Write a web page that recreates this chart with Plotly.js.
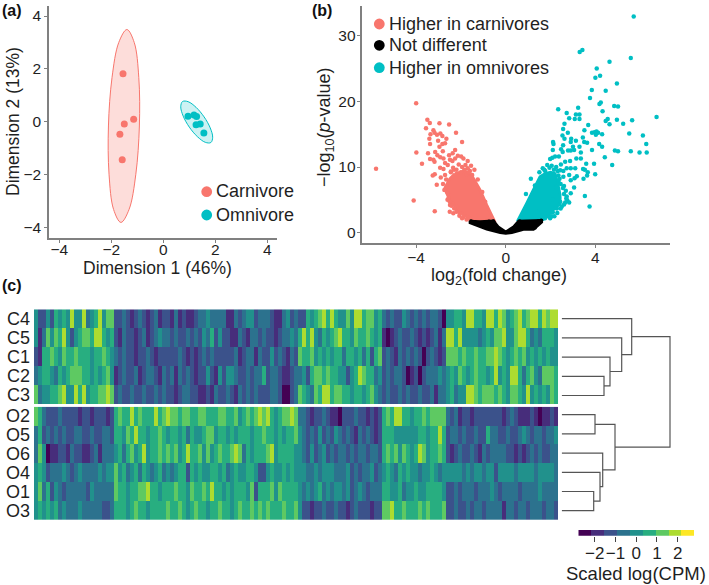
<!DOCTYPE html>
<html><head><meta charset="utf-8">
<script src="https://cdn.plot.ly/plotly-3.0.1.min.js"></script>
<style>html,body{margin:0;padding:0;background:#fff}</style></head>
<body><div id="chart" style="width:709px;height:585px"></div>
<script>
// ---- colours ----
const carnColor = '#F8766D', omniColor = '#00BFC4', notDiffColor = '#000000';
const viridis9 = ['#440154','#472d7b','#3b528b','#2c728e','#21918c','#28ae80','#5ec962','#addc30','#fde725'];

// ---- (a) MDS ----
const carnX = [-1.55,-1.14,-1.50,-1.67,-1.58];
const carnY = [1.82,0.10,-0.08,-0.47,-1.43];
const omniX = [0.95,1.18,1.28,1.26,1.42,1.56];
const omniY = [0.21,0.26,0.20,-0.11,-0.08,-0.42];
const carnEllipseX = [-1.40,-1.118,-0.942,-0.92,-1.057,-1.317,-1.63,-1.912,-2.087,-2.11,-1.973,-1.713,-1.40];
const carnEllipseY = [3.49,3.00,1.67,-0.155,-1.98,-3.31,-3.80,-3.31,-1.98,-0.155,1.67,3.00,3.49];
const omniEllipseX = [0.74,0.955,1.2585,1.569,1.8035,1.899,1.83,1.615,1.3115,1.001,0.7665,0.671,0.74];
const omniEllipseY = [0.77,0.763,0.55,0.188,-0.2255,-0.58,-0.78,-0.7725,-0.5595,-0.198,0.2155,0.57,0.77];

// ---- (b) volcano: individually readable points ----
const upX = [5.71,3.42,3.30,5.58,4.63,4.06,4.21,4.00,4.96,3.84,4.46,3.76,4.24,4.18,4.84,5.01,3.23,2.34,4.32,2.72,3.13,3.29,2.83,3.08,3.29,6.73,5.64,4.96,4.55,4.46,4.63,5.24,2.62,3.68,2.56,3.51,2.77,2.53,3.85,3.96,4.05,4.12,4.02,4.30,5.51,6.12,3.44,2.62,2.92,3.13,2.11,2.13,3.50,3.63,2.90,4.17,4.30,6.27,3.29,2.56,3.00,2.47,2.54,2.10,2.78,2.90,3.05,3.35,3.85,4.87,5.01,5.58,5.97,6.29,4.42,2.37,3.15,3.35,2.08,2.20,1.98,2.65,2.87,3.59,3.94,4.75,2.46,3.45,3.53,3.66,3.99,3.63,2.72,2.90,3.10,1.65,1.50,1.76,2.43,2.57,2.83,3.07,3.17,3.47,2.90,2.57,3.05,2.90,2.72,2.65,2.83,3.53,3.74,2.05,2.17,2.50,2.43,2.28,1.98,1.83,1.68,2.60,2.35,2.68,2.25,2.38,2.10,1.62,1.42,1.30,1.12,0.90,1.85,1.95,2.05,2.15,2.25,2.32,1.72,2.35,2.40,2.45,2.55,2.60,2.70,2.75,2.60,2.45,2.30,2.10,1.90,1.75];
const upY = [32.9,27.8,27.5,26.6,26.0,25.0,23.9,23.6,22.7,21.7,21.6,20.5,19.8,19.6,19.3,19.2,19.0,18.8,18.5,18.2,18.0,18.0,17.4,17.3,17.3,17.6,17.1,17.2,17.3,17.0,16.5,16.6,16.6,16.4,15.8,15.6,15.2,14.8,15.2,15.3,15.4,15.2,14.9,15.0,15.1,14.8,14.5,14.3,14.3,14.0,13.8,13.5,13.8,13.7,13.8,13.5,13.1,13.5,13.1,13.3,13.1,12.7,12.3,12.6,12.5,12.5,12.6,12.2,12.6,12.5,12.4,12.4,12.2,12.2,11.5,11.6,11.3,11.3,11.4,11.6,11.2,10.8,10.9,10.5,10.5,10.3,10.4,9.7,9.6,9.2,8.9,8.7,9.8,9.8,9.8,9.8,9.2,9.4,9.5,9.4,8.8,8.3,8.6,8.2,8.0,8.5,6.9,6.0,5.5,4.6,4.6,5.6,4.0,2.5,2.5,4.0,4.7,3.7,2.2,2.9,2.2,7.1,7.8,6.4,6.9,5.3,5.1,2.6,3.2,7.2,8.2,5.9,10.3,9.9,10.2,9.6,10.0,9.4,9.6,8.7,8.2,7.4,6.8,5.9,5.2,4.9,4.3,3.7,3.0,3.1,2.6,2.2];
const downX = [-4.00,-3.50,-3.39,-2.96,-2.53,-3.56,-3.23,-2.22,-3.36,-3.18,-2.92,-3.07,-2.83,-3.41,-3.02,-2.65,-1.95,-3.38,-2.83,-2.71,-2.96,-2.26,-3.99,-3.47,-3.15,-2.81,-2.37,-3.23,-3.05,-2.92,-2.78,-2.53,-1.99,-1.89,-2.14,-3.74,-3.38,-3.18,-2.71,-2.49,-2.38,-2.26,-2.93,-2.78,-2.59,-5.79,-3.17,-3.26,-2.71,-2.90,-3.08,-4.11,-3.17,-2.50,-2.34,-2.49,-2.56,-2.74,-2.07,-1.89,-2.63,-2.38,-2.59,-2.80,-2.66,-2.45,-2.31,-2.18,-1.70,-1.55,-1.40,-1.25,-1.05,-0.92,-2.10,-1.95,-1.80,-1.70,-1.60,-2.20,-2.35,-2.45,-2.00,-1.85,-1.75,-1.50,-1.65,-2.60,-2.50,-2.42,-2.30,-2.20,-2.05,-1.95,-1.75,-1.60];
const downY = [19.7,17.2,16.7,16.65,16.45,15.9,15.6,15.2,15.0,15.2,15.1,14.9,14.7,14.3,14.0,14.3,13.8,13.5,13.5,13.6,13.1,12.6,12.2,12.1,12.3,12.4,12.1,11.1,11.8,11.5,11.3,11.8,11.6,11.3,11.7,10.5,11.2,10.8,10.6,11.1,10.9,11.3,9.9,9.7,10.3,9.75,8.9,8.7,8.8,8.4,7.3,4.9,3.25,3.2,2.95,4.2,5.2,6.5,2.6,2.4,7.0,4.5,6.0,7.4,8.1,9.2,9.6,3.9,10.9,10.2,9.6,8.1,6.2,4.7,10.4,10.0,10.3,9.8,9.4,9.6,9.9,9.3,9.2,9.6,8.9,8.8,9.2,5.0,4.7,4.1,3.7,3.2,2.9,2.2,2.0,2.1];
const neutralX = [-1.55,-1.35,-1.10,-0.95,-0.75,-0.55,0.62,0.85,1.05,1.25,1.45,1.58,1.30,1.15];
const neutralY = [1.75,1.55,1.45,1.55,1.70,1.75,1.75,1.45,1.55,1.35,1.75,1.85,0.75,1.0];

// ---- (b) envelopes of the solid clouds where points merge ----
const upCloudX = [0.52,0.71,0.94,1.16,1.35,1.53,1.76,2.00,2.20,2.28,2.35,2.42,2.42,2.15,1.83,1.46,0.52];
const upCloudY = [1.7,2.9,4.5,6.0,7.3,8.5,9.0,9.2,9.0,8.0,7.0,5.8,4.4,3.6,2.4,1.6,1.7];
const downCloudX = [-2.26,-1.82,-1.50,-1.15,-0.85,-0.51,-1.37,-1.82,-2.20,-2.40,-2.58,-2.72,-2.50,-2.26];
const downCloudY = [9.0,9.4,8.6,6.5,4.2,1.8,1.8,2.6,3.6,4.7,5.6,6.75,8.2,9.0];
const neutralCloudX = [-1.6,-1.15,-0.55,-0.33,0,0.34,0.57,1.61,1.61,1.24,0.79,0.27,0,-0.25,-0.85,-1.15,-1.6,-1.6];
const neutralCloudY = [1.8,1.7,1.8,0.9,0.15,0.9,1.8,1.9,1.6,0.5,0.5,0,-0.1,0,0.5,0.9,1.5,1.8];

// ---- (c) heat map, colour bin (1-9) per column ----
const rowNamesC = ['C4','C5','C1','C2','C3'];
const rowNamesO = ['O2','O5','O6','O4','O1','O3'];
const C4 = [5,3,3,5,3,6,5,6,5,8,5,5,8,4,5,6,8,5,7,7,3,3,4,3,2,3,4,3,2,3,4,2,3, 3,2,4,2,3,2,2,3,4,4,5,4,4,4,4,2,2,4,3,4,5,5,3,4,4,4,3,2,2,4,5,3,4, 3,3,6,5,6,7,8,6,8,6,5,5,7,5,8,8,6,7,7,5,6,4,3,4,3,3,5,4,3,4,3,4,3,4, 4,3,1,5,5,6,6,5,8,8,6,6,5,8,8,6,8,7,5,6,7,8,6,7,8,8,6,8,7,8,8];
const C5 = [5,2,4,7,5,7,6,8,5,3,5,6,7,7,6,8,8,6,5,6,3,2,4,3,3,2,3,4,2,3,4,5,4, 4,3,4,3,3,4,3,4,3,5,4,6,3,5,3,3,2,2,4,3,2,4,4,3,4,3,3,2,3,4,4,5,4, 6,8,6,8,5,4,6,5,6,7,8,6,6,5,7,6,6,7,6,5,6,2,1,2,3,4,3,3,4,3,2,3,2,3, 4,2,4,8,8,6,8,5,5,5,5,4,5,6,5,7,7,8,5,5,7,8,8,6,4,5,4,6,6,6,5];
const C1 = [3,2,6,6,7,6,5,7,6,6,7,6,6,6,5,6,6,7,6,5,4,3,4,3,3,2,3,3,4,3,2,3,3, 3,3,3,4,3,2,3,2,3,4,3,4,3,3,3,3,3,4,2,3,4,4,2,4,3,3,5,3,4,3,2,4,3, 7,6,6,7,5,6,5,6,5,6,6,4,6,6,5,6,4,6,3,6,7,3,4,3,2,4,3,4,3,4,3,1,3,4, 3,2,3,7,7,7,6,7,6,6,7,6,6,7,7,8,7,6,5,6,7,6,7,5,6,5,6,5,6,5,5];
const C2 = [4,5,6,6,5,4,6,5,6,7,7,7,6,6,5,6,5,6,7,5,2,3,4,3,3,4,2,3,4,4,3,2,4, 3,4,2,4,3,4,3,2,3,3,5,3,2,5,3,5,5,4,3,3,4,3,4,4,6,3,4,4,3,2,2,3,4, 4,5,3,6,7,7,6,7,6,6,5,5,3,5,6,8,7,6,6,4,5,3,4,3,4,4,3,1,2,3,1,3,4,4, 4,5,4,5,6,5,7,6,5,6,7,6,6,5,6,8,5,6,5,8,8,6,4,6,7,5,4,7,7,7,6];
const C3 = [7,4,5,5,6,6,7,8,5,5,8,6,8,5,6,6,7,7,8,7,3,4,3,3,4,3,3,4,3,3,4,3,4, 3,3,2,3,4,4,3,3,2,2,3,2,4,3,3,4,3,2,4,3,4,3,4,3,3,3,4,4,3,1,1,3,4, 7,6,5,4,7,6,8,8,6,7,7,6,6,5,6,6,5,6,7,5,4,3,4,3,3,4,3,4,3,3,4,3,3,4, 2,4,4,5,6,4,5,5,8,8,7,6,7,7,7,6,7,6,5,7,7,6,5,8,5,6,5,6,5,7,6];
const O2 = [7,6,4,3,3,3,4,3,3,3,3,2,3,3,2,3,3,3,2,3,6,7,6,6,8,6,7,6,6,6,8,6,7, 8,7,7,6,7,7,6,6,7,7,6,6,6,7,7,6,6,7,5,6,7,6,7,8,7,8,6,5,6,7,7,8,7, 4,4,3,2,3,3,4,3,2,2,1,3,3,3,4,3,3,2,3,2,3,6,7,6,8,8,6,6,5,6,6,7,6,7, 7,7,7,4,3,4,2,3,3,2,3,3,3,3,3,3,3,2,3,4,3,2,2,2,3,2,1,2,2,3,2];
const O5 = [4,6,3,4,3,4,3,4,3,3,4,4,3,3,4,3,3,4,4,3,6,6,5,7,6,8,6,6,5,6,6,7,6, 5,6,6,5,6,4,6,5,5,6,7,7,5,6,6,5,6,5,6,6,6,5,6,6,7,6,6,5,6,5,6,6,7, 5,4,3,4,3,5,3,4,3,5,4,3,4,3,2,4,3,4,3,2,3,6,6,6,5,5,5,5,5,5,6,6,5,6, 6,8,6,3,4,4,3,4,3,3,4,3,3,6,4,4,3,3,4,3,3,4,5,4,3,4,4,3,4,4,5];
const O6 = [4,7,5,1,2,2,3,3,2,4,3,3,2,2,3,4,2,4,4,4,5,6,4,6,7,5,6,8,5,6,6,7,6, 7,6,7,5,6,8,6,6,7,5,7,5,6,7,6,6,7,8,7,4,6,5,6,6,6,7,8,5,6,6,6,6,5, 5,4,3,5,3,4,5,3,4,3,4,4,3,4,3,4,4,3,4,4,3,6,7,6,7,5,7,6,5,6,8,7,5,6, 6,7,6,3,2,3,4,3,3,4,3,2,4,3,4,4,4,4,3,3,2,3,2,3,4,3,4,3,3,4,4];
const O4 = [5,6,5,3,4,4,4,5,4,3,4,5,4,4,4,4,5,4,5,5,7,5,6,4,5,6,4,6,5,4,5,6,4, 5,4,5,6,6,3,6,5,6,5,5,6,6,5,6,4,5,6,5,5,6,6,5,3,3,5,6,5,5,6,5,6,5, 5,5,4,4,5,4,5,5,5,4,4,4,5,3,4,3,4,4,5,3,4,5,6,5,4,6,5,6,5,5,4,5,5,6, 5,4,5,5,5,5,5,4,5,4,5,5,4,5,5,3,5,5,5,5,4,5,5,5,5,4,5,5,5,5,4];
const O1 = [5,7,4,6,3,5,4,3,4,4,4,4,4,3,5,4,4,4,4,4,7,6,6,5,6,6,7,7,8,6,6,5,6, 6,6,7,6,6,5,7,6,6,7,6,8,6,6,5,6,5,6,6,6,5,7,3,6,6,6,7,5,7,6,6,6,6, 5,4,5,4,5,6,4,5,4,5,5,4,5,3,4,5,4,3,4,4,4,6,6,5,5,6,4,5,5,6,5,5,6,6, 6,6,5,3,3,4,3,4,4,4,3,4,4,4,5,4,3,4,4,4,4,3,4,4,4,4,5,4,4,4,4];
const O3 = [5,6,5,6,5,6,4,5,4,4,4,5,4,4,4,4,4,3,3,4,6,6,6,5,6,7,6,6,5,6,6,6,6, 7,6,6,7,6,5,6,7,6,6,5,6,6,7,6,6,5,6,7,6,6,7,6,7,6,7,6,6,6,7,6,6,7, 5,3,3,2,3,3,4,3,3,4,3,3,2,3,4,3,3,3,2,3,3,7,7,8,6,6,7,6,6,6,7,6,7,6, 6,6,7,3,3,4,3,3,4,3,4,4,3,4,4,4,4,2,4,4,3,4,4,3,4,4,4,3,4,4,3];

// ---- colour bar ----
const barCenters = [-2.48,-1.86,-1.24,-0.62,0,0.62,1.24,1.86,2.48];
const barBins = [1,2,3,4,5,6,7,8,9];
const barTicks = [-2,-1,0,1,2];

// ---- dendrogram: leaves 0-10 top to bottom, merge k creates node 11+k ----
const mergeA = [3,2,1,0,5,9,8,7,15,14];
const mergeB = [4,11,12,13,6,10,16,17,18,19];
const mergeHeight = [42.3,48.3,60,70,33.3,32,38.3,41,53.3,108.3];
const dendroColor = '#555555';

// ---- helpers ----
const W = 709, H = 585;
const fx = p => p / W;
const fy = p => 1 - p / H;
const font = 'Liberation Sans, Arial, sans-serif';
const ink = '#1f1f1f';
const spine = '#808080';

const stepScale = [];
viridis9.forEach((c, i) => { stepScale.push([i / 9, c]); stepScale.push([(i + 1) / 9, c]); });

// dendrogram segments from the merges
const nodeY = [0,1,2,3,4,5,6,7,8,9,10], nodeH = new Array(11).fill(0);
const dendroX = [], dendroY = [];
mergeA.forEach((a, k) => {
  const b = mergeB[k], h = mergeHeight[k];
  dendroX.push(nodeH[a], h, h, nodeH[b], null);
  dendroY.push(nodeY[a], nodeY[a], nodeY[b], nodeY[b], null);
  nodeY.push((nodeY[a] + nodeY[b]) / 2);
  nodeH.push(h);
});

const traces = [
  {x: carnEllipseX, y: carnEllipseY, mode:'lines', line:{color:carnColor,width:1,shape:'spline',smoothing:1}, fill:'toself', fillcolor:'rgba(248,118,109,0.25)', hoverinfo:'skip', xaxis:'x', yaxis:'y'},
  {x: omniEllipseX, y: omniEllipseY, mode:'lines', line:{color:omniColor,width:1,shape:'spline',smoothing:1}, fill:'toself', fillcolor:'rgba(0,191,196,0.2)', hoverinfo:'skip', xaxis:'x', yaxis:'y'},
  {x: carnX, y: carnY, mode:'markers', marker:{color:carnColor,size:7}, name:'Carnivore', xaxis:'x', yaxis:'y'},
  {x: omniX, y: omniY, mode:'markers', marker:{color:omniColor,size:7}, name:'Omnivore', xaxis:'x', yaxis:'y'},

  {x: downCloudX, y: downCloudY, mode:'lines', line:{color:carnColor,width:3}, fill:'toself', fillcolor:carnColor, hoverinfo:'skip', xaxis:'x2', yaxis:'y2'},
  {x: upCloudX, y: upCloudY, mode:'lines', line:{color:omniColor,width:3}, fill:'toself', fillcolor:omniColor, hoverinfo:'skip', xaxis:'x2', yaxis:'y2'},
  {x: downX, y: downY, mode:'markers', marker:{color:carnColor,size:4.5}, name:'Higher in carnivores', xaxis:'x2', yaxis:'y2'},
  {x: upX, y: upY, mode:'markers', marker:{color:omniColor,size:4.5}, name:'Higher in omnivores', xaxis:'x2', yaxis:'y2'},
  {x: neutralCloudX, y: neutralCloudY, mode:'lines', line:{color:notDiffColor,width:2.5}, fill:'toself', fillcolor:notDiffColor, hoverinfo:'skip', xaxis:'x2', yaxis:'y2'},
  {x: neutralX, y: neutralY, mode:'markers', marker:{color:notDiffColor,size:4}, name:'Not different', xaxis:'x2', yaxis:'y2'},

  {type:'heatmap', z:[C4,C5,C1,C2,C3], y:rowNamesC, colorscale:stepScale, zmin:0.5, zmax:9.5, showscale:false, xaxis:'x3', yaxis:'y3'},
  {type:'heatmap', z:[O2,O5,O6,O4,O1,O3], y:rowNamesO, colorscale:stepScale, zmin:0.5, zmax:9.5, showscale:false, xaxis:'x4', yaxis:'y4'},
  {type:'heatmap', z:[barBins], x:barCenters, y:[0], colorscale:stepScale, zmin:0.5, zmax:9.5, showscale:false, xaxis:'x5', yaxis:'y5'},
  {x: dendroX, y: dendroY, mode:'lines', line:{color:dendroColor,width:1.2}, hoverinfo:'skip', connectgaps:false, xaxis:'x6', yaxis:'y6'}
];

const scatterAxis = (domain, range, extra) => Object.assign({
  domain, range, showgrid:false, zeroline:false, showline:true, linecolor:spine, linewidth:2,
  ticks:'outside', ticklen:3, tickwidth:1, tickcolor:spine, tickfont:{family:font,size:15.5,color:ink}, tickangle:0, automargin:false
}, extra);
const hidden = (domain, range, extra) => Object.assign({
  domain, range, visible:false, showgrid:false, zeroline:false, fixedrange:true
}, extra);
const rowAxis = (domain, names) => ({
  domain, type:'category', autorange:'reversed', showgrid:false, zeroline:false, showline:false, ticks:'',
  tickmode:'array', tickvals:names, ticktext:names, ticklabelstandoff:3,
  tickfont:{family:font,size:18,color:ink}
});

const titleNote = (text, x, y, size, angle) => ({
  text, xref:'paper', yref:'paper', x:fx(x), y:fy(y), xanchor:'center', yanchor:'middle', showarrow:false,
  textangle:angle||0, font:{family:font,size:size,color:ink}
});

const layout = {
  width:W, height:H, margin:{l:0,r:0,t:0,b:0,pad:0}, paper_bgcolor:'#fff', plot_bgcolor:'rgba(0,0,0,0)',
  showlegend:false, font:{family:font,color:ink},
  xaxis: scatterAxis([fx(49.3),fx(277.3)], [-4.385,4.385], {anchor:'y', tickvals:[-4,-2,0,2,4], ticklabelstandoff:-7}),
  yaxis: scatterAxis([fy(238.3),fy(5.7)], [-4.40,4.39], {anchor:'x', tickvals:[-4,-2,0,2,4]}),
  xaxis2: scatterAxis([fx(361.7),fx(670)], [-6.43,7.33], {anchor:'y2', tickvals:[-4,0,4], ticklabelstandoff:-4}),
  yaxis2: scatterAxis([fy(243.3),fy(6)], [-1.61,34.5], {anchor:'x2', tickvals:[0,10,20,30], ticklabelstandoff:-2}),
  xaxis3: hidden([fx(34),fx(558)], [-0.5,130.5], {anchor:'y3'}),
  yaxis3: Object.assign(rowAxis([fy(404),fy(309.3)], rowNamesC), {anchor:'x3'}),
  xaxis4: hidden([fx(34),fx(558)], [-0.5,130.5], {anchor:'y4'}),
  yaxis4: Object.assign(rowAxis([fy(520),fy(406.7)], rowNamesO), {anchor:'x4'}),
  xaxis5: {domain:[fx(578.3),fx(694)], range:[-2.79,2.79], anchor:'y5', tickvals:barTicks, ticks:'outside', ticklen:5, tickwidth:1, tickcolor:'#444', tickangle:0, ticklabelstandoff:-3,
           showgrid:false, zeroline:false, showline:false, tickfont:{family:font,size:17,color:ink}},
  yaxis5: hidden([fy(535.7),fy(530)], [-0.5,0.5], {anchor:'x5'}),
  xaxis6: hidden([fx(561.7),fx(671.7)], [0,110], {anchor:'y6'}),
  yaxis6: hidden([fy(520.3),fy(309.1)], [10.5,-0.5], {anchor:'x6'}),
  annotations: [
    ['(a)',0,10],['(b)',310,10],['(c)',0,285]
  ].map(a => ({text:'<b>'+a[0]+'</b>', xref:'paper', yref:'paper', x:fx(a[1]), y:fy(a[2]), xanchor:'left', yanchor:'middle', showarrow:false, font:{family:font,size:16,color:'#111'}}))
  .concat([
    ['Carnivore',216.5,191.5],['Omnivore',216.5,215],
    ['Higher in carnivores',390,24],['Not different',390,45.3],['Higher in omnivores',390,67.5]
  ].map(a => ({text:a[0], xref:'paper', yref:'paper', x:fx(a[1]), y:fy(a[2]), xanchor:'left', yanchor:'middle', xshift:-3, showarrow:false, font:{family:font,size:18,color:ink}})))
  .concat([
    titleNote('Dimension 1 (46%)',157.5,268,17.5),
    titleNote('Dimension 2 (13%)',13,122,17.5,-90),
    titleNote('log<sub>2</sub>(fold change)',499,276,18),
    titleNote('−log<sub>10</sub>(<i>p</i>-value)',325,127,18,-90),
    titleNote('Scaled log(CPM)',636,573,18.5)
  ]),
  shapes: [
    [206.7,191.7,carnColor],[206.7,215,omniColor],
    [379.3,24,carnColor],[379.3,45.3,notDiffColor],[379.3,67.7,omniColor]
  ].map(s => ({type:'circle', xref:'paper', yref:'paper', x0:fx(s[0]-5.4), x1:fx(s[0]+5.4), y0:fy(s[1]+5.4), y1:fy(s[1]-5.4), fillcolor:s[2], line:{width:0}}))
};

Plotly.newPlot('chart', traces, layout, {displayModeBar:false});
</script></body></html>
